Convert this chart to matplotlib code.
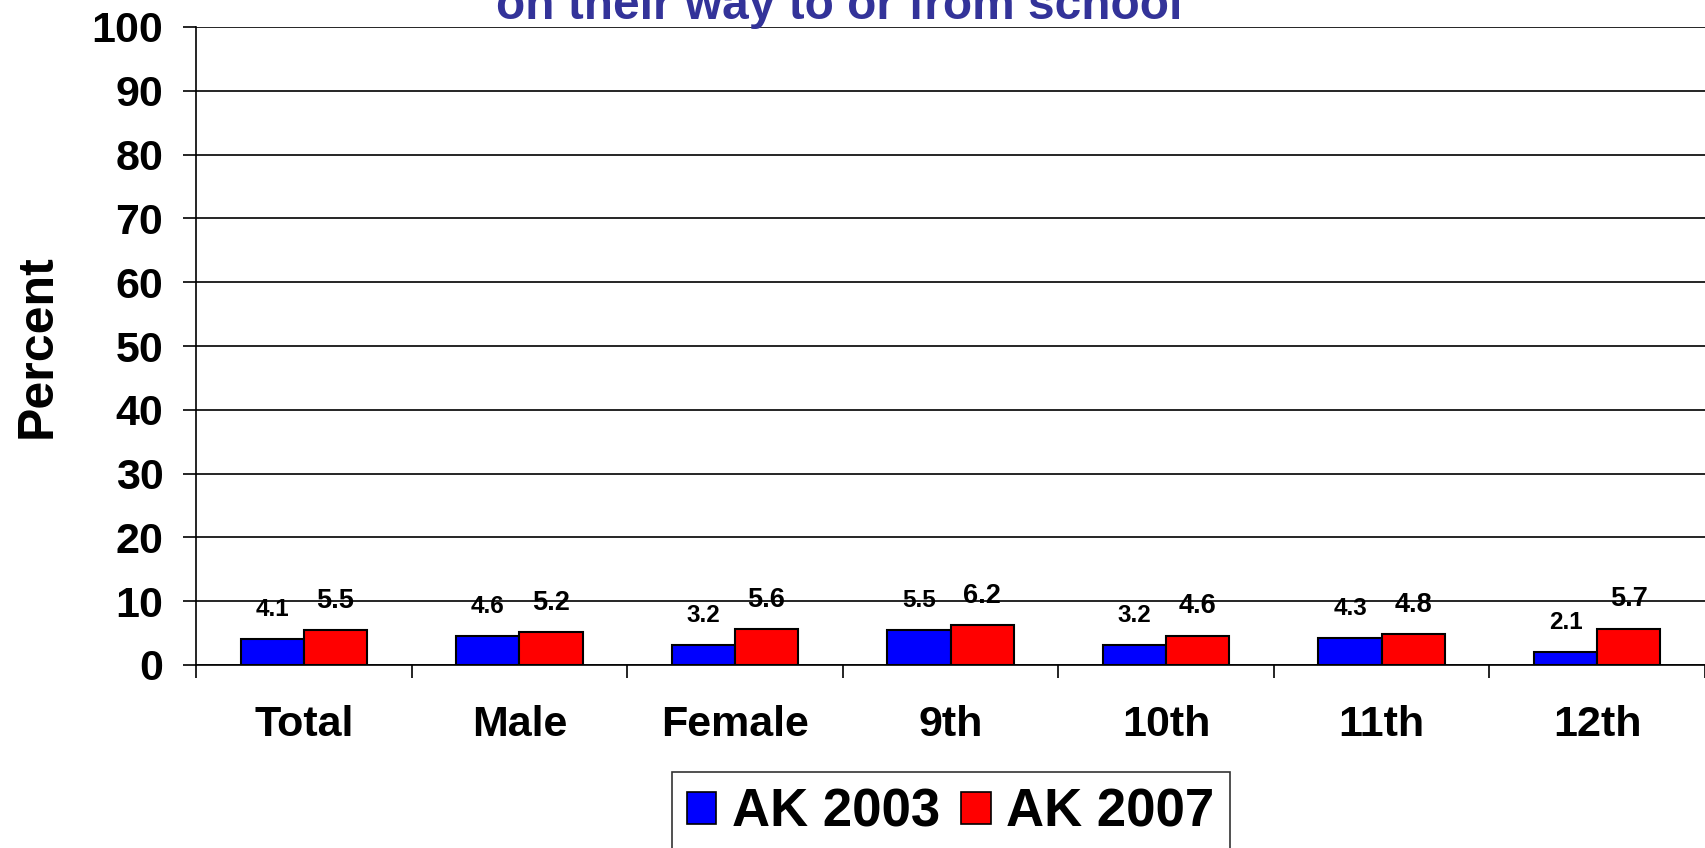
import numpy as np
import matplotlib
matplotlib.use('Agg')
import matplotlib.pyplot as plt
from matplotlib.patches import Patch

plt.rcParams['font.family'] = ['Liberation Sans', 'DejaVu Sans']
plt.rcParams['font.weight'] = 'bold'

categories = ['Total', 'Male', 'Female', '9th', '10th', '11th', '12th']
ak2003 = [4.1, 4.6, 3.2, 5.5, 3.2, 4.3, 2.1]
ak2007 = [5.5, 5.2, 5.6, 6.2, 4.6, 4.8, 5.7]
series_names = ['AK 2003', 'AK 2007']
colors = ['#0000FF', '#FF0000']

fig = plt.figure(figsize=(17.05, 8.48), dpi=100)
ax = fig.add_axes([196 / 1705, 1 - 665 / 848, 1 - 196 / 1705, (665 - 27) / 848])

x = np.arange(len(categories))
w = 0.293
b1 = ax.bar(x - w / 2, ak2003, w, color=colors[0], edgecolor='black', linewidth=1.5, zorder=3)
b2 = ax.bar(x + w / 2, ak2007, w, color=colors[1], edgecolor='black', linewidth=1.5, zorder=3)

# value labels above the bars
for bars, vals, fs in [(b1, ak2003, 17.5), (b2, ak2007, 19.5)]:
    for r, v in zip(bars, vals):
        ax.annotate(f'{v:.1f}', (r.get_x() + r.get_width() / 2, v),
                    xytext=(0, 21), textcoords='offset points',
                    ha='center', va='center', fontsize=fs, fontweight='bold')

ax.set_xlim(-0.5, len(categories) - 0.5)
ax.set_ylim(0, 100)
ax.set_yticks(range(0, 101, 10))
ax.yaxis.grid(True, color='black', linewidth=1.2, zorder=0)
ax.tick_params(axis='y', length=9.5, width=1.2, pad=14, labelsize=31)

ax.set_xticks(np.arange(len(categories) + 1) - 0.5)
ax.set_xticklabels([])
ax.set_xticks(x, minor=True)
ax.set_xticklabels(categories, minor=True, fontsize=31, fontweight='bold')
ax.tick_params(axis='x', which='major', length=9, width=1.2)
ax.tick_params(axis='x', which='minor', length=0, pad=29)

for s in ['top', 'right']:
    ax.spines[s].set_visible(False)
ax.spines['left'].set_linewidth(1.2)
ax.spines['bottom'].set_linewidth(1.2)

ax.set_ylabel('Percent', fontsize=36, fontweight='bold', labelpad=22)

fig.text(839 / 1705, 1 - 19 / 848, 'on their way to or from school', ha='center',
         va='baseline', fontsize=34.5, fontweight='bold', color='#333399')

handles = [Patch(facecolor=c, edgecolor='black', linewidth=1.2) for c in colors]
leg = fig.legend(handles, series_names, loc='upper center', bbox_to_anchor=(951 / 1705, 1 - 772 / 848),
                 ncol=2, fontsize=38, frameon=True, fancybox=False, edgecolor='black',
                 handlelength=0.55, handleheight=0.55, handletextpad=0.3, columnspacing=0.4,
                 borderpad=0.3, borderaxespad=0)
leg.get_frame().set_linewidth(1.2)
for t in leg.get_texts():
    t.set_fontweight('bold')

fig.savefig('out.png', dpi=100)
